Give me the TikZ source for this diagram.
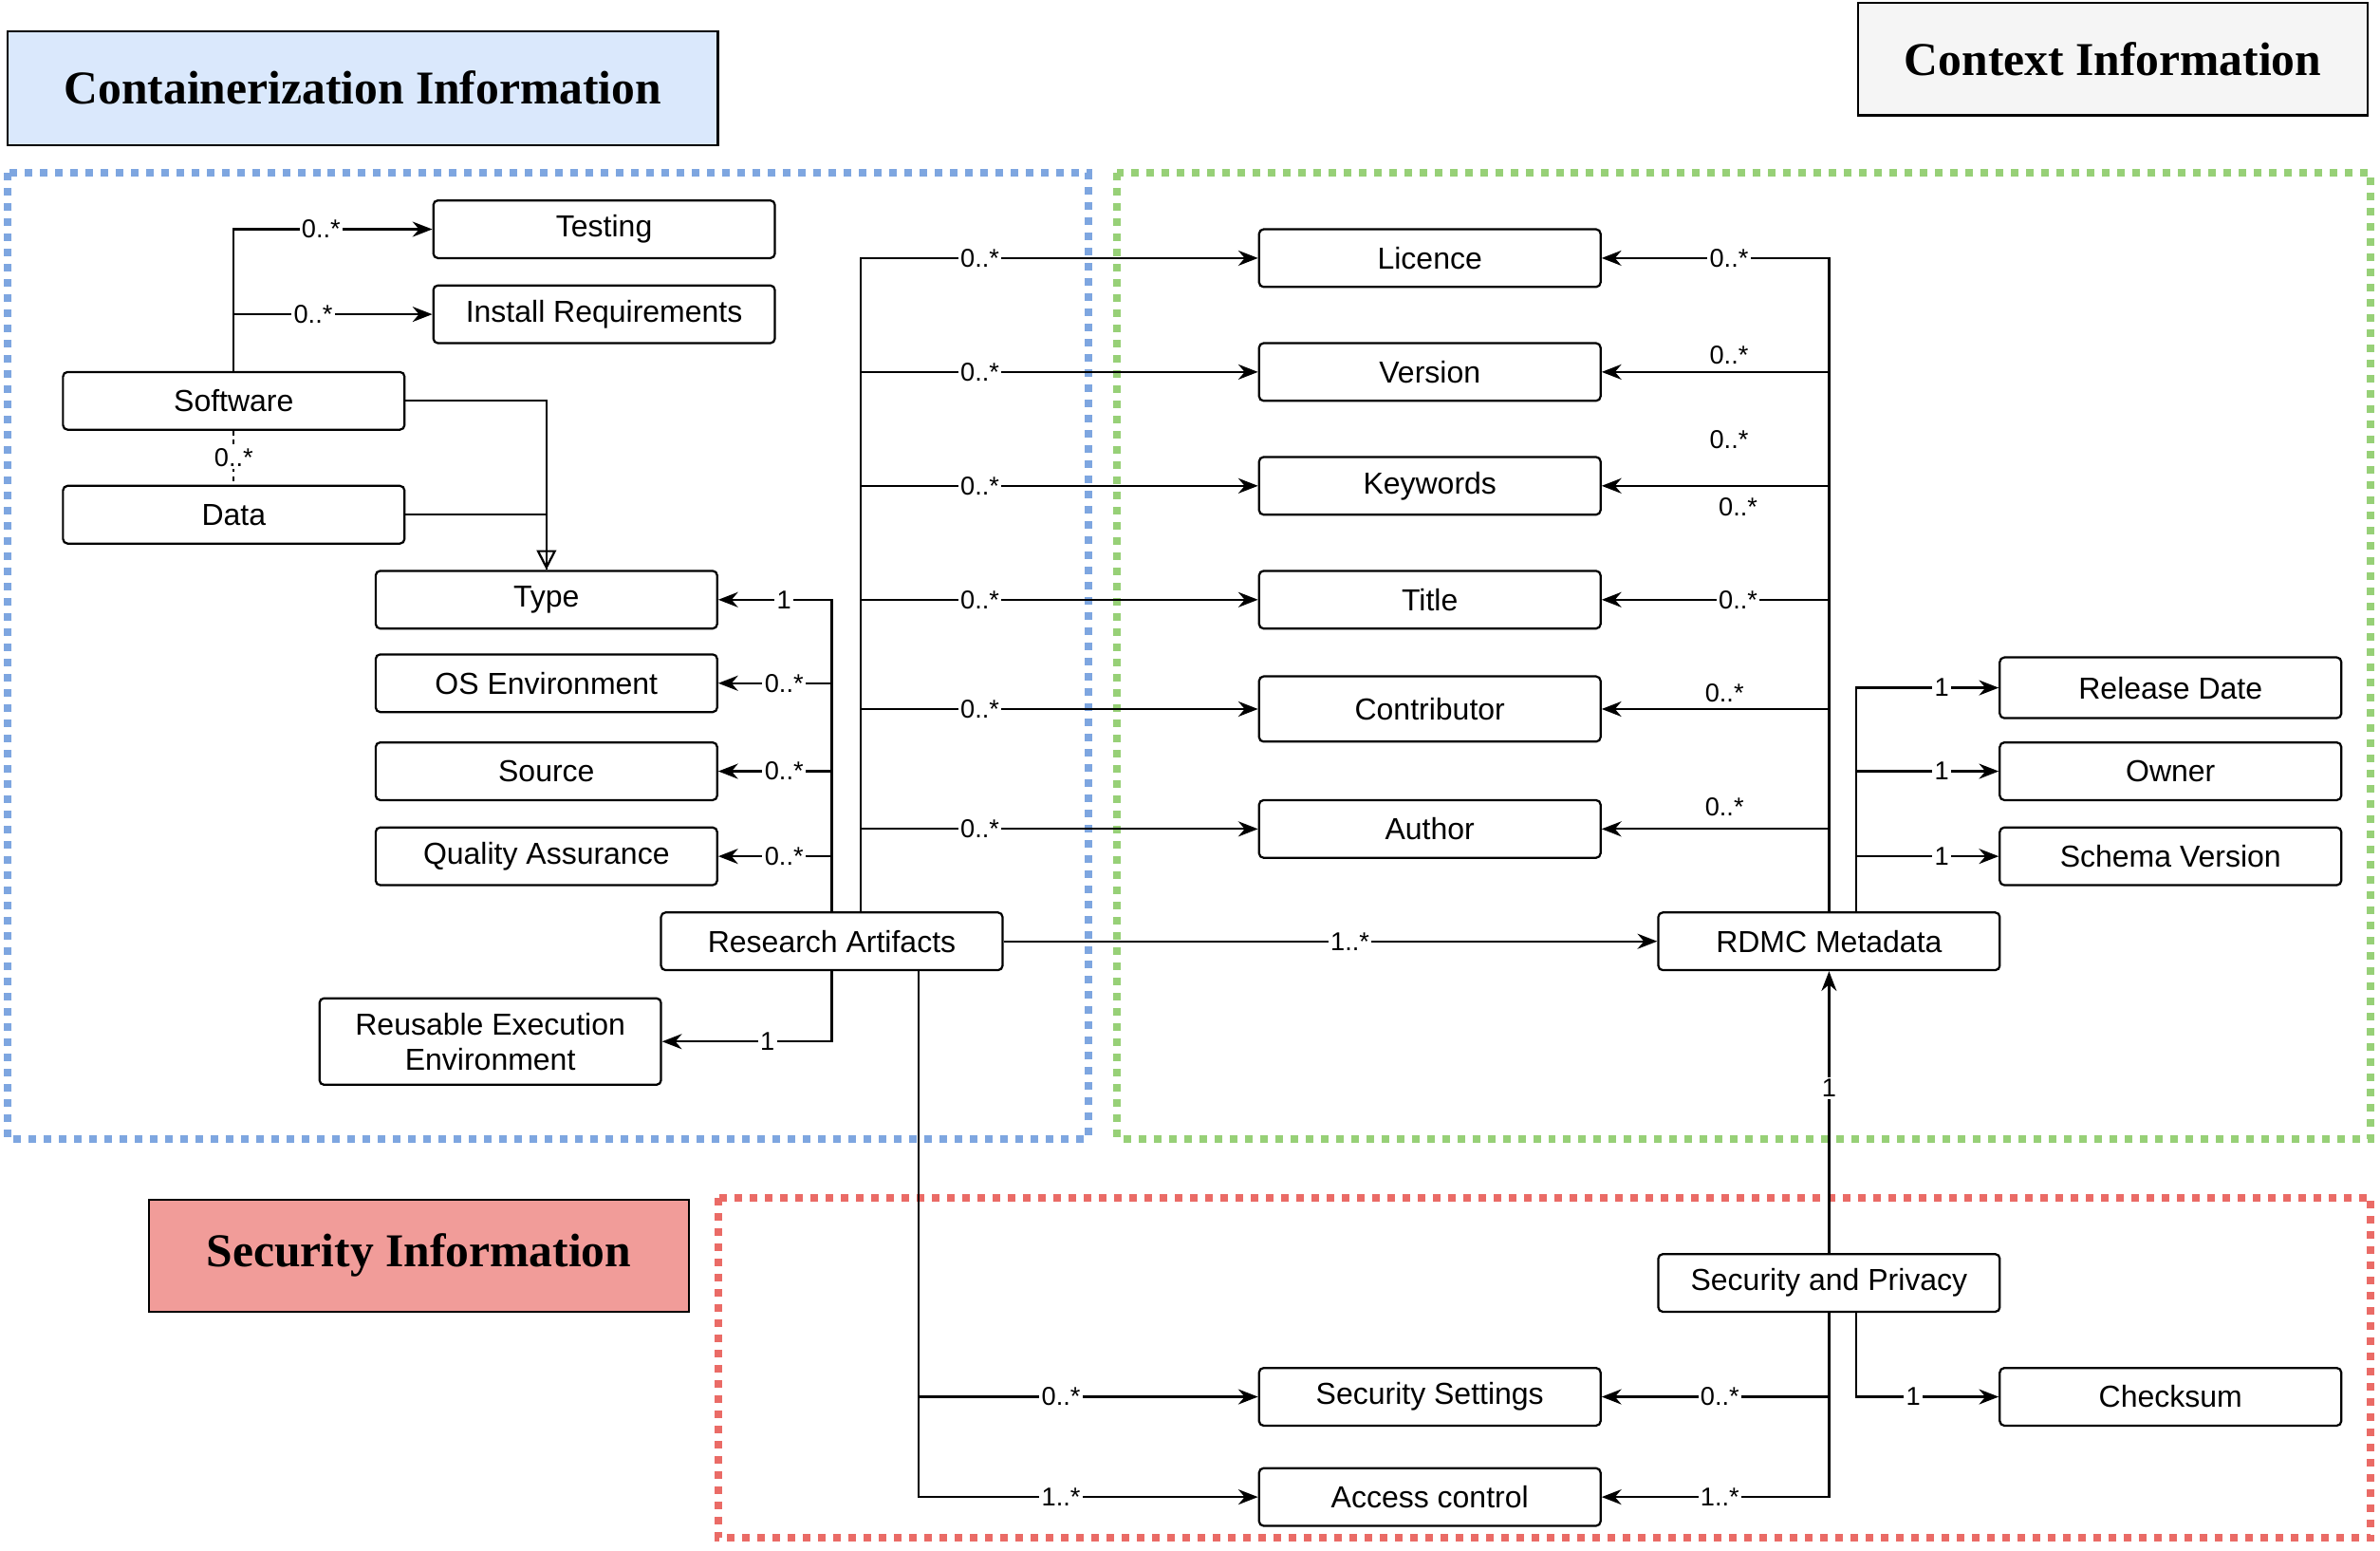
\documentclass[tikz,border=0pt]{standalone}
\usepackage{fontspec}
\setmainfont{Liberation Sans}
\newfontfamily\ttl{Liberation Serif}
\usetikzlibrary{arrows.meta}
\begin{document}
\begin{tikzpicture}[x=1pt,y=-1pt,
 box/.style={draw,rounded corners=3pt,line width=1.4pt,minimum width=225pt,minimum height=38pt,fill=white,font=\fontsize{20}{23}\selectfont,align=center,inner sep=1pt},
 ttlbox/.style={draw,line width=1.4pt,font=\ttl\bfseries\fontsize{31}{36}\selectfont,inner sep=0pt},
 zone/.style={line width=5pt,dash pattern=on 5pt off 5pt},
 arr/.style={line width=1.4pt,-{Stealth[length=13pt,width=10pt]}},
 ln/.style={line width=1.4pt},
 lbl/.style={fill=white,inner sep=1.5pt,font=\fontsize{17}{20}\selectfont},
 albl/.style={inner sep=1.5pt,font=\fontsize{17}{20}\selectfont}]
\useasboundingbox (0,0) rectangle (1568,1021);
% zones
\draw[zone,draw={rgb,255:red,126;green,166;blue,224}] (5,114) rectangle (717,750);
\draw[zone,draw={rgb,255:red,151;green,208;blue,119}] (736,114) rectangle (1562,750);
\draw[zone,draw={rgb,255:red,234;green,107;blue,102}] (473,789) rectangle (1562,1013);
% titles
\node[ttlbox,fill={rgb,255:red,218;green,232;blue,252},minimum width=468,minimum height=75] (t1) at (239,58) {Containerization Information};
\node[ttlbox,fill={rgb,255:red,245;green,245;blue,245},minimum width=336,minimum height=74] (t2) at (1392,39) {Context Information};
\node[ttlbox,fill={rgb,255:red,241;green,156;blue,153},minimum width=356,minimum height=74] (t3) at (276,827) {Security Information};
% nodes
\node[box] (test) at (398,151) {Testing};
\node[box] (inst) at (398,207) {Install Requirements};
\node[box] (sw) at (154,264) {Software};
\node[box] (data) at (154,339) {Data};
\node[box] (type) at (360,395) {Type};
\node[box] (os) at (360,450) {OS Environment};
\node[box] (src) at (360,508) {Source};
\node[box] (qa) at (360,564) {Quality Assurance};
\node[box] (ra) at (548,620) {Research Artifacts};
\node[box,minimum height=57] (ree) at (323,686) {Reusable Execution\\Environment};
\node[box] (lic) at (942,170) {Licence};
\node[box] (ver) at (942,245) {Version};
\node[box] (kw) at (942,320) {Keywords};
\node[box] (tit) at (942,395) {Title};
\node[box,minimum height=43] (con) at (942,467) {Contributor};
\node[box] (aut) at (942,546) {Author};
\node[box] (rdmc) at (1205,620) {RDMC Metadata};
\node[box,minimum height=40] (rd) at (1430,453) {Release Date};
\node[box] (own) at (1430,508) {Owner};
\node[box] (sv) at (1430,564) {Schema Version};
\node[box] (sp) at (1205,845) {Security and Privacy};
\node[box] (cs) at (1430,920) {Checksum};
\node[box] (ss) at (942,920) {Security Settings};
\node[box] (ac) at (942,986) {Access control};
% software
\draw[arr] (sw.north) |- node[lbl,pos=0.72]{0..*} (test.west);
\draw[arr] (sw.north) |- node[lbl,pos=0.7]{0..*} (inst.west);
\draw[ln,dashed] (sw.south) -- node[lbl]{0..*} (data.north);
\draw[ln,-{Triangle[open,length=13pt,width=13pt]}] (sw.east) -| (type.north);
\draw[ln] (data.east) -| (type.north);
% research artifacts left
\draw[arr] (ra.north) |- node[lbl,pos=0.71]{1} (type.east);
\draw[arr] (ra.north) |- node[lbl,pos=0.71]{0..*} (os.east);
\draw[arr] (ra.north) |- node[lbl,pos=0.71]{0..*} (src.east);
\draw[arr] (ra.north) |- node[lbl,pos=0.71]{0..*} (qa.east);
\draw[arr] (ra.south) |- node[lbl,pos=0.69]{1} (ree.east);
% research artifacts right
\draw[arr] ([xshift=19]ra.north) |- node[lbl,pos=0.65]{0..*} (lic.west);
\draw[arr] ([xshift=19]ra.north) |- node[lbl,pos=0.65]{0..*} (ver.west);
\draw[arr] ([xshift=19]ra.north) |- node[lbl,pos=0.65]{0..*} (kw.west);
\draw[arr] ([xshift=19]ra.north) |- node[lbl,pos=0.65]{0..*} (tit.west);
\draw[arr] ([xshift=19]ra.north) |- node[lbl,pos=0.65]{0..*} (con.west);
\draw[arr] ([xshift=19]ra.north) |- node[lbl,pos=0.65]{0..*} (aut.west);
\draw[arr] (ra.east) -- node[lbl,pos=0.53]{1..*} (rdmc.west);
\draw[arr] ([xshift=57]ra.south) |- node[lbl,pos=0.71]{0..*} (ss.west);
\draw[arr] ([xshift=57]ra.south) |- node[lbl,pos=0.71]{1..*} (ac.west);
% rdmc left
\draw[arr] (rdmc.north) |- node[lbl,pos=0.72]{0..*} (lic.east);
\draw[arr] (rdmc.north) |- node[albl,pos=0.72,above=3pt]{0..*} (ver.east);
\draw[arr] (rdmc.north) |- node[albl,pos=0.72,above=22pt]{0..*} node[albl,pos=0.7,below=6pt]{0..*} (kw.east);
\draw[arr] (rdmc.north) |- node[lbl,pos=0.7]{0..*} (tit.east);
\draw[arr] (rdmc.north) |- node[albl,pos=0.73,above=2pt]{0..*} (con.east);
\draw[arr] (rdmc.north) |- node[albl,pos=0.73,above=6pt]{0..*} (aut.east);
% rdmc right
\draw[arr] ([xshift=18]rdmc.north) |- node[lbl,pos=0.8]{1} (rd.west);
\draw[arr] ([xshift=18]rdmc.north) |- node[lbl,pos=0.8]{1} (own.west);
\draw[arr] ([xshift=18]rdmc.north) |- node[lbl,pos=0.8]{1} (sv.west);
% security
\draw[arr] (sp.north) -- node[lbl,pos=0.585]{1} (rdmc.south);
\draw[arr] (sp.south) |- node[lbl,pos=0.74]{0..*} (ss.east);
\draw[arr] (sp.south) |- node[lbl,pos=0.74]{1..*} (ac.east);
\draw[arr] ([xshift=18]sp.south) |- node[lbl,pos=0.7]{1} (cs.west);
\end{tikzpicture}
\end{document}
